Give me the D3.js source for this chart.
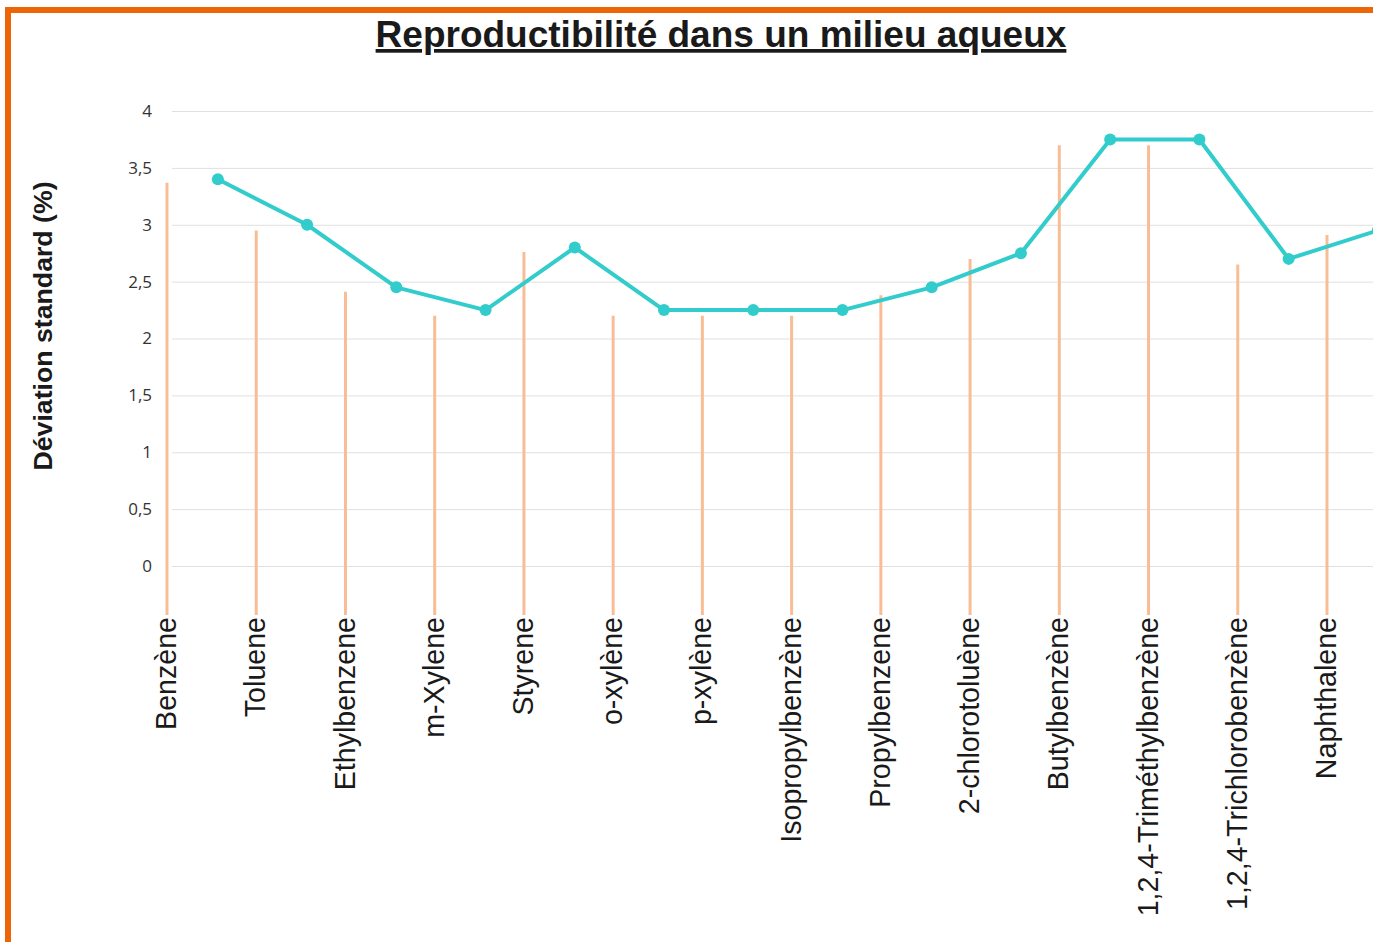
<!DOCTYPE html>
<html>
<head>
<meta charset="utf-8">
<script src="https://cdn.jsdelivr.net/npm/d3@7"></script>
<style>
  html, body { margin: 0; padding: 0; background: #fff; }
  svg { display: block; font-family: "Liberation Sans", Arial, sans-serif; }
</style>
</head>
<body>
<svg id="chart" width="1373" height="942"></svg>
<script>
// Compounds along the horizontal axis
const categories = [
  "Benzène", "Toluene", "Ethylbenzene", "m-Xylene", "Styrene", "o-xylène",
  "p-xylène", "Isopropylbenzène", "Propylbenzene", "2-chlorotoluène",
  "Butylbenzène", "1,2,4-Triméthylbenzène", "1,2,4-Trichlorobenzène", "Naphthalene"
];
// Standard deviation (%) drawn as the teal line
const lineValues = [3.4, 3.0, 2.45, 2.25, 2.8, 2.25, 2.25, 2.25, 2.45, 2.75, 3.75, 3.75, 2.7, 2.95];
// Values drawn as the orange vertical bars
const barValues = [3.37, 2.95, 2.41, 2.2, 2.76, 2.2, 2.2, 2.2, 2.38, 2.7, 3.7, 3.7, 2.65, 2.91];
// Y axis ticks
const yTicks = [0, 0.5, 1, 1.5, 2, 2.5, 3, 3.5, 4];
const yTickLabels = ["0", "0,5", "1", "1,5", "2", "2,5", "3", "3,5", "4"];

const svg = d3.select("#chart");
const W = 1373, H = 942;

// Layout
const plotLeft = 172, plotRight = 1420;
const axisY = 615; // where the category labels begin

const x = d3.scalePoint().domain(categories).range([167, 167 + 89.23 * 13]);
const lineShift = 0.57 * x.step();
const y = d3.scaleLinear().domain([0, 4]).range([566, 111]);

// Frame
svg.append("line").attr("x1", 5).attr("x2", W).attr("y1", 10).attr("y2", 10)
  .attr("stroke", "#ec6608").attr("stroke-width", 6);
svg.append("line").attr("x1", 8).attr("x2", 8).attr("y1", 7).attr("y2", H)
  .attr("stroke", "#ec6608").attr("stroke-width", 6);

// Title
svg.append("text")
  .attr("x", 721).attr("y", 47)
  .attr("text-anchor", "middle")
  .attr("font-size", 37).attr("font-weight", "bold")
  .attr("text-decoration", "underline")
  .attr("fill", "#1a1a1a")
  .text("Reproductibilité dans un milieu aqueux");

// Y axis title
svg.append("text")
  .attr("transform", "translate(52,326) rotate(-90)")
  .attr("text-anchor", "middle")
  .attr("font-size", 26.7).attr("font-weight", "bold")
  .attr("fill", "#1a1a1a")
  .text("Déviation standard (%)");

// Grid + y axis
const yAxis = d3.axisLeft(y)
  .tickValues(yTicks)
  .tickFormat((d, i) => yTickLabels[i])
  .tickSize(plotLeft - plotRight)
  .tickPadding(20);
const gy = svg.append("g").attr("transform", `translate(${plotLeft},0)`).call(yAxis);
gy.select(".domain").remove();
gy.selectAll(".tick line").attr("stroke", "#e0e0e0").attr("stroke-width", 1)
  .attr("x1", 0).attr("x2", plotRight - plotLeft);
gy.selectAll(".tick text").attr("font-size", 17).attr("fill", "#333")
  .attr("font-family", "'Open Sans', 'Liberation Sans', sans-serif");

// Orange vertical bars
svg.append("g").selectAll("line").data(categories).join("line")
  .attr("x1", d => x(d)).attr("x2", d => x(d))
  .attr("y1", axisY)
  .attr("y2", (d, i) => y(barValues[i]))
  .attr("stroke", "#f9bd96").attr("stroke-width", 3);

// Category labels
const xAxis = d3.axisBottom(x).tickSize(0).tickPadding(0);
const gx = svg.append("g").attr("transform", `translate(0,${axisY})`).call(xAxis);
gx.select(".domain").remove();
gx.selectAll(".tick text")
  .attr("font-size", 28.6).attr("fill", "#1a1a1a")
  .attr("font-family", "'Liberation Sans', Arial, sans-serif")
  .attr("text-anchor", "end")
  .attr("transform", "rotate(-90)")
  .attr("x", -2).attr("y", 0).attr("dy", "0.3em");

// Teal line with markers
const pts = categories.map((c, i) => ({ c, v: lineValues[i] }));
const line = d3.line().x(d => x(d.c) + lineShift).y(d => y(d.v));
svg.append("path").datum(pts)
  .attr("d", line).attr("fill", "none")
  .attr("stroke", "#33cccc").attr("stroke-width", 4).attr("stroke-linejoin", "round");
svg.append("g").selectAll("circle").data(pts).join("circle")
  .attr("cx", d => x(d.c) + lineShift).attr("cy", d => y(d.v))
  .attr("r", 6).attr("fill", "#33cccc");
</script>
</body>
</html>
